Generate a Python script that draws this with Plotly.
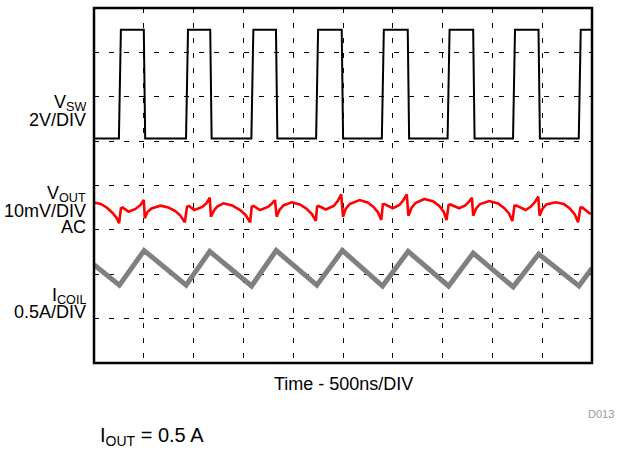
import plotly.graph_objects as go

# ---------------- data (time in ns, screen = 10 div x 500 ns) ----------------
# Switch node: edge times (ns) and level (V), 2 V/div
VSW_RISE_NS = [260, 934, 1590, 2240, 2900, 3560, 4217, 4877]
VSW_FALL_NS = [507, 1174, 1834, 2494, 3157, 3814, 4470]
VSW_LOW_V = 0.0
VSW_HIGH_V = 4.9
VSW_OFFSET_DIV = 5.06
VSW_SCALE = 2.0  # V/div

# Output ripple (AC coupled), mV, 10 mV/div
VOUT_T_NS = [0, 67, 127, 187, 227, 252,
             270, 287, 347, 417, 467, 500, 510, 537, 577, 667, 747, 817, 867, 912,
             934, 952, 1007, 1087, 1132, 1162, 1174, 1202, 1237, 1300, 1387, 1467, 1522, 1567,
             1584, 1602, 1667, 1747, 1787, 1817, 1834, 1862, 1902, 1984, 2067, 2137, 2187, 2227,
             2240, 2257, 2327, 2407, 2447, 2482, 2500, 2527, 2567, 2667, 2747, 2807, 2852, 2884,
             2900, 2917, 3000, 3067, 3107, 3140, 3157, 3187, 3227, 3317, 3407, 3467, 3512, 3540,
             3560, 3577, 3667, 3727, 3767, 3794, 3807, 3837, 3877, 3967, 4057, 4117, 4167, 4200,
             4222, 4242, 4334, 4387, 4427, 4460, 4474, 4502, 4542, 4634, 4717, 4777, 4827, 4860,
             4884, 4902, 4974, 5000]
VOUT_MV = [1.71, 1.37, 0.59, -0.65, -1.78, -2.97,
           0.41, 0.59, -0.36, 0.25, 1.15, 2.27, -1.85, -0.43, 0.36, 0.99, 0.59, -0.20, -1.22, -2.75,
           0.77, 0.92, 0.02, 0.70, 1.60, 2.79, -1.49, -0.20, 0.81, 1.53, 1.04, 0.02, -1.10, -2.75,
           0.77, 0.92, 0.02, 0.70, 1.49, 2.27, -1.49, 0.02, 1.04, 1.76, 1.26, 0.25, -0.88, -2.45,
           0.77, 0.92, 0.14, 0.92, 2.05, 3.56, -1.49, 0.25, 1.37, 2.27, 1.71, 0.70, -0.54, -2.23,
           1.31, 1.37, 0.41, 1.15, 2.27, 3.56, -1.26, 0.47, 1.60, 2.50, 1.94, 0.92, -0.43, -2.23,
           1.15, 1.26, 0.41, 1.04, 1.94, 2.79, -1.26, 0.36, 1.37, 2.05, 1.49, 0.47, -0.77, -2.45,
           0.99, 1.04, 0.02, 0.81, 1.82, 3.02, -1.26, 0.25, 1.26, 1.76, 1.37, 0.36, -0.99, -2.75,
           0.54, 0.59, -0.72, -0.77]
VOUT_OFFSET_DIV = 3.446
VOUT_SCALE = 10.0  # mV/div

# Inductor current, A, 0.5 A/div
ICOIL_T_NS = [0, 255, 503, 925, 1162, 1582, 1829, 2237, 2494, 2897, 3154, 3560, 3807,
              4209, 4465, 4869, 5000]
ICOIL_A = [0.54, 0.31, 0.70, 0.31, 0.69, 0.30, 0.70, 0.31, 0.70, 0.30, 0.69, 0.30, 0.67,
           0.29, 0.66, 0.30, 0.50]
ICOIL_OFFSET_DIV = 1.135
ICOIL_SCALE = 0.5  # A/div

RISE_NS = 10
FALL_NS = 7

# ---------------- build switch waveform from edges ----------------
edges = sorted([(t, 'r') for t in VSW_RISE_NS] + [(t, 'f') for t in VSW_FALL_NS])
vsw_t = [0]
vsw_v = [VSW_LOW_V]
for t, kind in edges:
    if kind == 'r':
        vsw_t += [t - RISE_NS, t + RISE_NS]
        vsw_v += [VSW_LOW_V, VSW_HIGH_V]
    else:
        vsw_t += [t - FALL_NS, t + FALL_NS]
        vsw_v += [VSW_HIGH_V, VSW_LOW_V]
vsw_t.append(5000)
vsw_v.append(vsw_v[-1])

vsw_div = [VSW_OFFSET_DIV + v / VSW_SCALE for v in vsw_v]
vout_div = [VOUT_OFFSET_DIV + v / VOUT_SCALE for v in VOUT_MV]
icoil_div = [ICOIL_OFFSET_DIV + a / ICOIL_SCALE for a in ICOIL_A]

fig = go.Figure()
fig.add_trace(go.Scatter(x=vsw_t, y=vsw_div, mode='lines',
                         line=dict(color='black', width=2), hoverinfo='skip'))
fig.add_trace(go.Scatter(x=VOUT_T_NS, y=vout_div, mode='lines',
                         line=dict(color='#ff0000', width=2.6), hoverinfo='skip'))
fig.add_trace(go.Scatter(x=ICOIL_T_NS, y=icoil_div, mode='lines',
                         line=dict(color='#808080', width=5), hoverinfo='skip'))

axis_common = dict(showgrid=True, gridcolor='black', gridwidth=1, griddash='5px,10px',
                   showticklabels=False, ticks='', zeroline=False, showline=False,
                   fixedrange=True)
fig.update_xaxes(range=[0, 5000], tick0=0, dtick=500, **axis_common)
fig.update_yaxes(range=[0, 8], tick0=0, dtick=1, **axis_common)

FONT = 'Liberation Sans, Arial, sans-serif'
PX_TOP = 8
PLOT_H = 355
L = 94
PLOT_W = 498


def py(px):
    return (PX_TOP + PLOT_H - px) / PLOT_H


def pxx(px):
    return (px - L) / PLOT_W


# (text, centre y in px, box height)
labels = [
    ('V<sub>SW</sub>', 103.5, 18),
    ('2V/DIV', 119.5, 14),
    ('V<sub>OUT</sub>', 194, 18),
    ('10mV/DIV', 210.5, 14),
    ('AC', 227, 14),
    ('I<sub>COIL</sub>', 295.5, 18),
    ('0.5A/DIV', 311.5, 14),
]
ann = []
for txt, ypx, h in labels:
    ann.append(dict(text=txt, x=pxx(88), y=py(ypx), xref='paper', yref='paper',
                    xanchor='right', yanchor='middle', showarrow=False, height=h,
                    font=dict(family=FONT, size=18, color='black')))
ann.append(dict(text='Time - 500ns/DIV', x=0.5, y=py(384), xref='paper', yref='paper',
                xanchor='center', yanchor='middle', showarrow=False,
                font=dict(family=FONT, size=18, color='black')))
ann.append(dict(text='D013', x=pxx(616), y=py(414), xref='paper', yref='paper',
                xanchor='right', yanchor='middle', showarrow=False,
                font=dict(family=FONT, size=11, color='#999999')))
ann.append(dict(text='I<sub>OUT</sub> = 0.5 A', x=pxx(98), y=py(436), xref='paper', yref='paper',
                xanchor='left', yanchor='middle', showarrow=False,
                font=dict(family=FONT, size=20, color='black')))

fig.update_layout(
    width=623, height=455,
    margin=dict(l=L, r=623 - L - PLOT_W, t=PX_TOP, b=455 - PX_TOP - PLOT_H, pad=0),
    paper_bgcolor='white', plot_bgcolor='white', showlegend=False,
    annotations=ann,
    shapes=[dict(type='rect', xref='paper', yref='paper', x0=0, x1=1, y0=0, y1=1,
                 line=dict(color='black', width=2.5), layer='above')],
)

fig.write_html('out.html', config={'displayModeBar': False},
               post_script="document.body.style.margin='0px';document.body.style.overflow='hidden';")
